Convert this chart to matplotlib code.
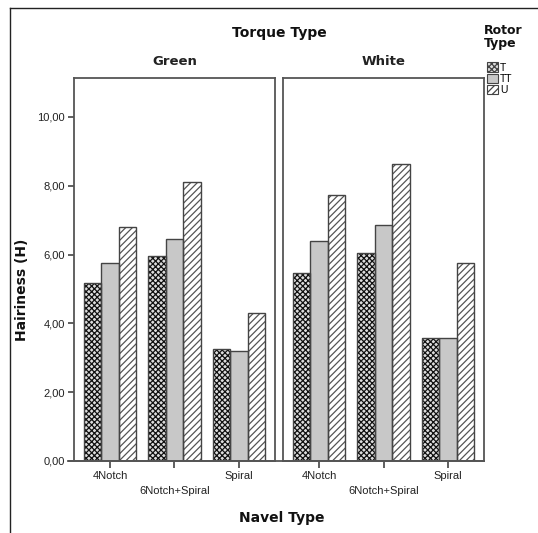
import matplotlib
matplotlib.use("Agg")
import matplotlib.pyplot as plt
from matplotlib.patches import Patch
from matplotlib.lines import Line2D
import numpy as np

navel_types = ["4Notch", "6Notch+Spiral", "Spiral"]
torque_types = ["Green", "White"]
rotor_types = ["T", "TT", "U"]

green_T = [5.17, 5.96, 3.26]
green_TT = [5.76, 6.45, 3.20]
green_U = [6.80, 8.11, 4.30]
white_T = [5.47, 6.05, 3.57]
white_TT = [6.40, 6.86, 3.57]
white_U = [7.73, 8.63, 5.75]

yticks = [0, 2, 4, 6, 8, 10]
ytick_labels = ["0,00", "2,00", "4,00", "6,00", "8,00", "10,00"]

data = {"Green": [green_T, green_TT, green_U], "White": [white_T, white_TT, white_U]}

styles = {
    "T": dict(facecolor="#dddddd", hatch="xxxxxx", hatchc="#111111"),
    "TT": dict(facecolor="#c8c8c8", hatch=None, hatchc="#c8c8c8"),
    "U": dict(facecolor="white", hatch="/////", hatchc="#555555"),
}

W, H = 538, 533
fig = plt.figure(figsize=(W / 100, H / 100), dpi=100)
plt.rcParams["hatch.linewidth"] = 0.9

def fx(px):
    return px / W

def fy(py):
    return 1 - py / H

panel_lefts = [74, 283]
panel_w = 201
top_px, bot_px = 78, 461
edge = "#444444"
bw = 0.27

axes = []
for i, tt in enumerate(torque_types):
    ax = fig.add_axes([fx(panel_lefts[i]), fy(bot_px), panel_w / W, (bot_px - top_px) / H])
    axes.append(ax)
    x = np.arange(len(navel_types))
    for j, rt in enumerate(rotor_types):
        st = styles[rt]
        vals = data[tt][j]
        pos = x + (j - 1) * bw
        ax.bar(pos, vals, width=bw, facecolor=st["facecolor"], edgecolor=st["hatchc"],
               hatch=st["hatch"], linewidth=0, zorder=2)
        ax.bar(pos, vals, width=bw, fill=False, edgecolor=edge, linewidth=1.0, zorder=3)
    ax.set_xlim(-0.56, 2.56)
    ax.set_ylim(0, (bot_px - top_px) / 34.4)
    for s in ax.spines.values():
        s.set_color("#555555")
        s.set_linewidth(1.3)
    ax.set_xticks(x)
    ax.set_xticklabels(navel_types, fontsize=8, family="Liberation Sans", color="#222222")
    ax.tick_params(axis="x", direction="out", length=5, width=1.2, color="#444444", pad=2)
    ticks = ax.xaxis.get_major_ticks()
    ticks[1].tick1line.set_markersize(14.5)
    ticks[1].set_pad(13)
    if i == 0:
        ax.set_yticks(yticks)
        ax.set_yticklabels(ytick_labels, fontsize=8, family="Liberation Sans", color="#222222")
        ax.tick_params(axis="y", direction="out", length=4.5, width=1.2, color="#444444", pad=2)
    else:
        ax.set_yticks([])
    ax.text(0.5, 1.0 + 17 / (bot_px - top_px), tt, transform=ax.transAxes, ha="center",
            va="center", fontsize=9.5, fontweight="bold", family="DejaVu Sans", color="#222222")

# baseline across panels
fig.add_artist(Line2D([fx(68), fx(484)], [fy(461), fy(461)], color="#555555", lw=1.3))

fig.text(fx(279), fy(33), "Torque Type", ha="center", va="center", fontsize=10,
         fontweight="bold", family="DejaVu Sans", color="#111111")
fig.text(fx(282), fy(518), "Navel Type", ha="center", va="center", fontsize=10,
         fontweight="bold", family="DejaVu Sans", color="#111111")
fig.text(fx(22), fy(290), "Hairiness (H)", ha="center", va="center", rotation=90,
         fontsize=10, fontweight="bold", family="DejaVu Sans", color="#111111")

# outer frame
fig.add_artist(Line2D([fx(10), fx(10)], [fy(8), fy(540)], color="#222222", lw=1.0))
fig.add_artist(Line2D([fx(10), fx(545)], [fy(8), fy(8)], color="#222222", lw=1.0))

# legend
fig.text(fx(484), fy(37), "Rotor\nType", ha="left", va="center", fontsize=9,
         fontweight="bold", family="DejaVu Sans", color="#111111", linespacing=1.0)
handles = [Patch(facecolor=styles[r]["facecolor"], edgecolor=edge,
                 hatch=styles[r]["hatch"], linewidth=0.8) for r in rotor_types]
leg = fig.legend(handles, rotor_types, loc="upper left", bbox_to_anchor=(fx(480), fy(55)),
                 frameon=False, handlelength=1.0, handleheight=1.0,
                 handletextpad=0.2, labelspacing=0.1, borderpad=0.2,
                 prop={"family": "Liberation Sans", "size": 7.5})

fig.savefig("out.png", dpi=100)
